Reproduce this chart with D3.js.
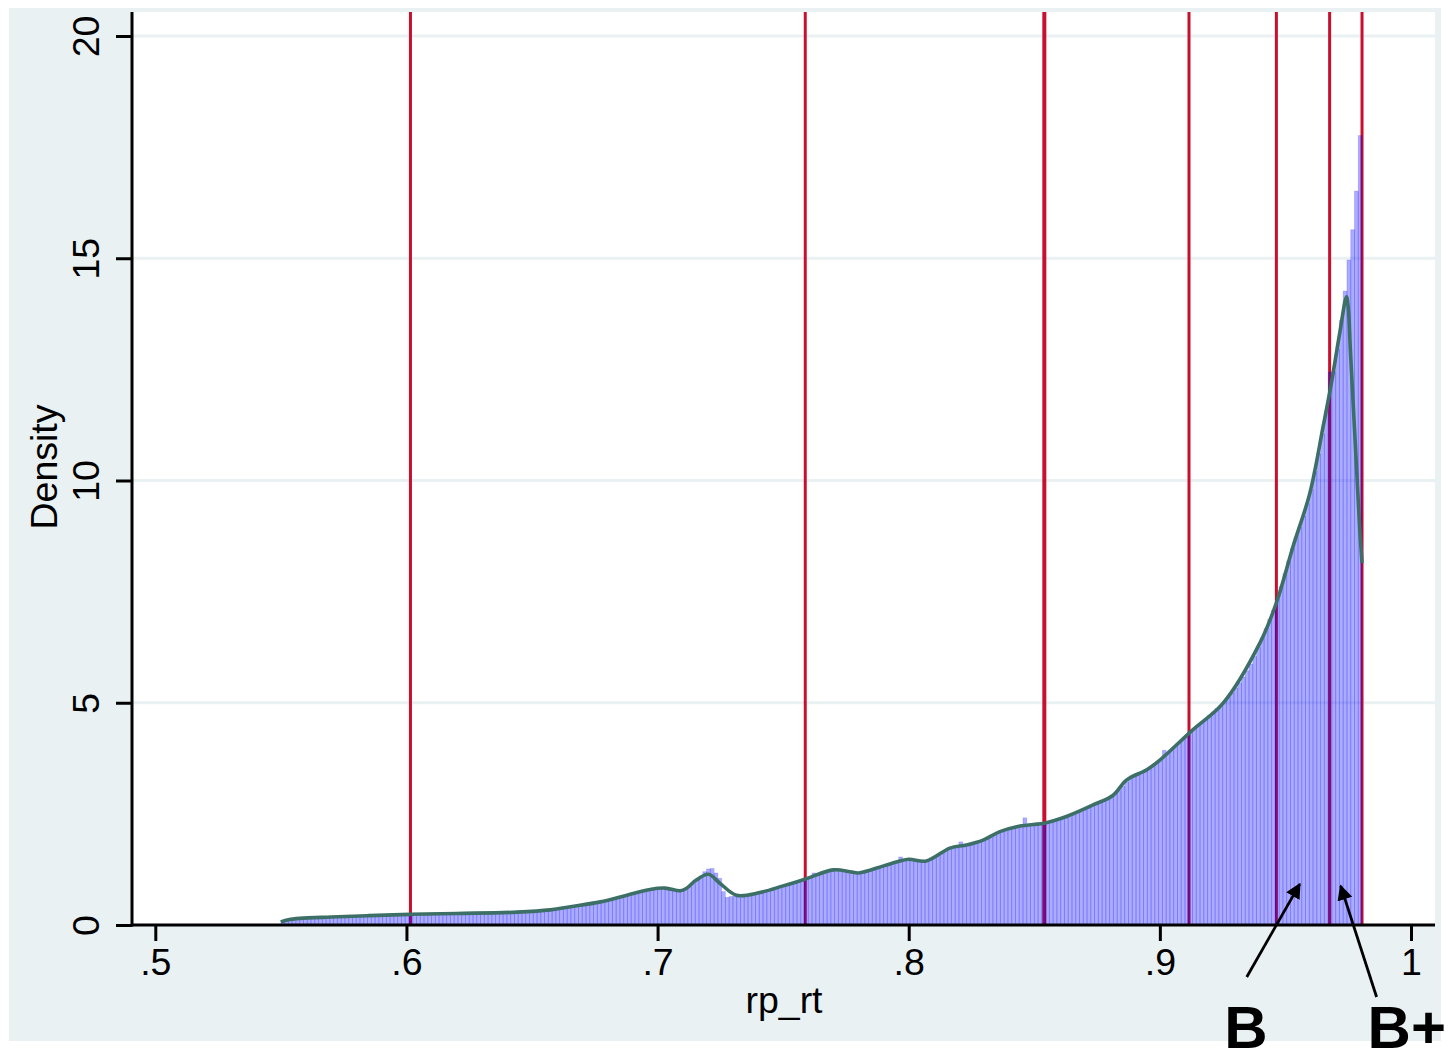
<!DOCTYPE html>
<html>
<head>
<meta charset="utf-8">
<script src="https://cdn.jsdelivr.net/npm/d3@7"></script>
<style>
  body { margin: 0; background: #ffffff; }
  svg { display: block; }
  text { font-family: Arial, "Liberation Sans", Helvetica, sans-serif; }
</style>
</head>
<body>
<svg id="chart" width="1448" height="1052"></svg>
<script>
// Histogram of rp_rt: bins start at 0.55, each 0.0015 wide
const binStart = 0.55;
const binWidth = 0.0015;
const binDensity = [
  0.10,0.11,0.13,0.14,0.15,0.15,0.16,0.16,0.16,0.17,
  0.17,0.17,0.17,0.18,0.18,0.18,0.18,0.19,0.19,0.19,
  0.20,0.20,0.20,0.21,0.21,0.21,0.21,0.22,0.22,0.22,
  0.23,0.23,0.23,0.24,0.24,0.24,0.24,0.24,0.25,0.25,
  0.25,0.25,0.25,0.25,0.26,0.26,0.26,0.26,0.26,0.26,
  0.26,0.27,0.27,0.27,0.27,0.27,0.28,0.28,0.28,0.28,
  0.29,0.29,0.29,0.30,0.30,0.31,0.31,0.32,0.32,0.33,
  0.33,0.34,0.35,0.36,0.38,0.39,0.40,0.42,0.43,0.44,
  0.46,0.47,0.49,0.50,0.52,0.53,0.56,0.58,0.60,0.62,
  0.64,0.66,0.68,0.71,0.73,0.75,0.77,0.79,0.81,0.82,
  0.82,0.82,0.81,0.80,0.79,0.78,0.77,0.80,0.86,0.93,
  1.00,1.10,1.20,1.26,1.27,1.17,1.05,0.75,0.62,0.64,
  0.65,0.66,0.67,0.68,0.68,0.69,0.70,0.72,0.74,0.76,
  0.80,0.82,0.85,0.88,0.90,0.93,0.96,0.98,1.01,1.04,
  1.06,1.17,1.12,1.15,1.18,1.20,1.23,1.25,1.25,1.23,
  1.21,1.19,1.18,1.17,1.19,1.21,1.24,1.26,1.29,1.32,
  1.34,1.36,1.39,1.42,1.53,1.46,1.49,1.50,1.48,1.46,
  1.44,1.44,1.46,1.50,1.56,1.61,1.66,1.70,1.73,1.74,
  1.87,1.76,1.78,1.80,1.83,1.86,1.89,1.93,1.97,2.02,
  2.07,2.11,2.14,2.16,2.19,2.21,2.22,2.41,2.24,2.25,
  2.26,2.27,2.28,2.29,2.31,2.33,2.36,2.38,2.41,2.44,
  2.48,2.51,2.55,2.59,2.63,2.67,2.71,2.75,2.79,2.83,
  2.88,2.95,3.03,3.12,3.22,3.29,3.34,3.38,3.43,3.48,
  3.53,3.59,3.66,3.72,3.93,3.86,3.94,4.02,4.10,4.18,
  4.27,4.35,4.42,4.50,4.57,4.64,4.72,4.79,4.87,4.94,
  5.03,5.12,5.22,5.33,5.45,5.58,5.72,5.87,6.04,6.24,
  6.46,6.67,6.88,7.08,7.33,7.61,7.90,8.19,8.47,8.72,
  8.95,9.20,9.48,9.80,10.20,10.60,11.05,11.55,12.44,12.45,
  12.95,13.60,14.26,14.96,15.64,16.51,17.76
];

// Kernel density estimate, sampled along rp_rt
const kdeX = [0.550,0.553,0.5576,0.570,0.585,0.6014,0.620,0.644,0.6573,0.6653,
  0.6772,0.6878,0.697,0.703,0.709,0.7114,0.7154,0.7202,0.7248,0.7314,
  0.7407,0.750,0.7586,0.770,0.7766,0.780,0.790,0.7965,0.800,0.807,
  0.8164,0.823,0.8296,0.8363,0.843,0.8496,0.854,0.8628,0.8734,0.8814,
  0.8867,0.895,0.900,0.9131,0.9252,0.9398,0.9464,0.953,0.9597,0.965,
  0.9683,0.9716,0.9743,0.9750,0.9758,0.9770,0.9783,0.9796,0.9805];
const kdeY = [0.07,0.12,0.15,0.18,0.21,0.24,0.26,0.29,0.34,0.41,
  0.52,0.67,0.80,0.83,0.77,0.82,1.01,1.14,0.94,0.67,
  0.73,0.88,1.03,1.24,1.20,1.17,1.33,1.44,1.48,1.44,
  1.73,1.80,1.91,2.10,2.21,2.26,2.29,2.44,2.70,2.92,
  3.26,3.50,3.71,4.39,4.99,6.34,7.25,8.51,9.71,11.21,
  12.19,13.31,14.13,13.90,13.00,11.70,10.30,8.90,8.14];

// Grade cut-off values
const cutoffs = [0.6016, 0.7588, 0.8540, 0.9116, 0.9464, 0.9676, 0.9805];

const xTicks = [0.5, 0.6, 0.7, 0.8, 0.9, 1];
const xTickLabels = [".5", ".6", ".7", ".8", ".9", "1"];
const yTicks = [0, 5, 10, 15, 20];
const yTickLabels = ["0", "5", "10", "15", "20"];
const gradeLabels = ["B", "B+"];

const svg = d3.select("#chart");

// plot frame
const plotL = 132, plotR = 1435, plotT = 12, plotB = 925;
const x = d3.scaleLinear().domain([0.5, 1]).range([155.3, 1411]);
const y = d3.scaleLinear().domain([0, 20]).range([925, 36]);

const bg = "#eaf1f3";
svg.append("rect").attr("x", 9).attr("y", 8).attr("width", 1432).attr("height", 1033).attr("fill", bg);
svg.append("rect").attr("x", plotL).attr("y", plotT).attr("width", plotR - plotL).attr("height", plotB - plotT).attr("fill", "#ffffff");

// horizontal grid
svg.append("g").selectAll("line").data(yTicks.filter(d => d > 0)).join("line")
  .attr("x1", plotL).attr("x2", plotR)
  .attr("y1", d => y(d)).attr("y2", d => y(d))
  .attr("stroke", bg).attr("stroke-width", 3);

// cut-off lines
svg.append("g").selectAll("line").data(cutoffs).join("line")
  .attr("x1", d => x(d)).attr("x2", d => x(d))
  .attr("y1", plotT).attr("y2", plotB)
  .attr("stroke", "#c8102e")
  .attr("stroke-width", (d, i) => i === 2 ? 4 : 3);

// histogram bars
const bins = binDensity.map((v, i) => ({ x0: binStart + i * binWidth, x1: binStart + (i + 1) * binWidth, v }));
svg.append("g").selectAll("rect").data(bins).join("rect")
  .attr("x", d => x(d.x0))
  .attr("width", d => x(d.x1) - x(d.x0))
  .attr("y", d => y(d.v))
  .attr("height", d => y(0) - y(d.v))
  .attr("fill", "rgb(0,0,255)")
  .attr("fill-opacity", 0.33)
  .attr("stroke", "rgb(0,0,255)")
  .attr("stroke-opacity", 0.18)
  .attr("stroke-width", 0.9);

// density curve
const line = d3.line()
  .x((d, i) => x(kdeX[i]))
  .y(d => y(d))
  .curve(d3.curveCatmullRom.alpha(0.5));
svg.append("path").datum(kdeY)
  .attr("d", line)
  .attr("fill", "none")
  .attr("stroke", "#3c6f65")
  .attr("stroke-width", 3.6)
  .attr("stroke-linejoin", "round");

// axes
const fontSize = 37.5;
const xAxis = d3.axisBottom(x).tickValues(xTicks)
  .tickFormat((d, i) => xTickLabels[i]).tickSize(16).tickSizeOuter(0);
const gx = svg.append("g").attr("transform", `translate(0,${plotB})`).call(xAxis);
gx.select(".domain").remove();
gx.selectAll(".tick line").attr("stroke", "#000").attr("stroke-width", 3);
gx.selectAll(".tick text").attr("y", 50).attr("dy", 0)
  .attr("font-size", fontSize).attr("fill", "#000");

const yAxis = d3.axisLeft(y).tickValues(yTicks)
  .tickFormat((d, i) => yTickLabels[i]).tickSize(16).tickSizeOuter(0);
const gy = svg.append("g").attr("transform", `translate(${plotL},0)`).call(yAxis);
gy.select(".domain").remove();
gy.selectAll(".tick line").attr("stroke", "#000").attr("stroke-width", 3);
gy.selectAll(".tick text")
  .attr("x", 0).attr("dy", 0)
  .attr("transform", "translate(-33,0) rotate(-90)")
  .attr("text-anchor", "middle")
  .attr("font-size", fontSize).attr("fill", "#000");

svg.append("line").attr("x1", plotL).attr("x2", plotR).attr("y1", plotB).attr("y2", plotB)
  .attr("stroke", "#000").attr("stroke-width", 3);
svg.append("line").attr("x1", plotL).attr("x2", plotL).attr("y1", plotT).attr("y2", plotB + 1.5)
  .attr("stroke", "#000").attr("stroke-width", 3);

// axis titles
svg.append("text").attr("x", 784).attr("y", 1013).attr("text-anchor", "middle")
  .attr("font-size", fontSize).text("rp_rt");
svg.append("text").attr("transform", `translate(57,${467}) rotate(-90)`)
  .attr("text-anchor", "middle").attr("font-size", fontSize).text("Density");

// grade annotations with arrows (data coordinates)
const defs = svg.append("defs");
defs.append("marker").attr("id", "arrowhead")
  .attr("viewBox", "0 0 10 10").attr("refX", 9).attr("refY", 5)
  .attr("markerWidth", 5.5).attr("markerHeight", 5.5)
  .attr("markerUnits", "strokeWidth").attr("orient", "auto")
  .append("path").attr("d", "M0,0 L10,5 L0,10 Z").attr("fill", "#000");

const arrows = [
  { from: [0.9346, -1.17], to: [0.9557, 0.92], label: [0.9256, -2.77] },
  { from: [0.9863, -1.62], to: [0.9720, 0.88], label: [0.9827, -2.77] }
];
arrows.forEach((a, i) => {
  svg.append("line")
    .attr("x1", x(a.from[0])).attr("y1", y(a.from[1]))
    .attr("x2", x(a.to[0])).attr("y2", y(a.to[1]))
    .attr("stroke", "#000").attr("stroke-width", 2.8)
    .attr("marker-end", "url(#arrowhead)");
  svg.append("text")
    .attr("x", x(a.label[0])).attr("y", y(a.label[1]))
    .attr("font-size", 60).attr("font-weight", "bold").attr("fill", "#000")
    .text(gradeLabels[i]);
});
</script>
</body>
</html>
